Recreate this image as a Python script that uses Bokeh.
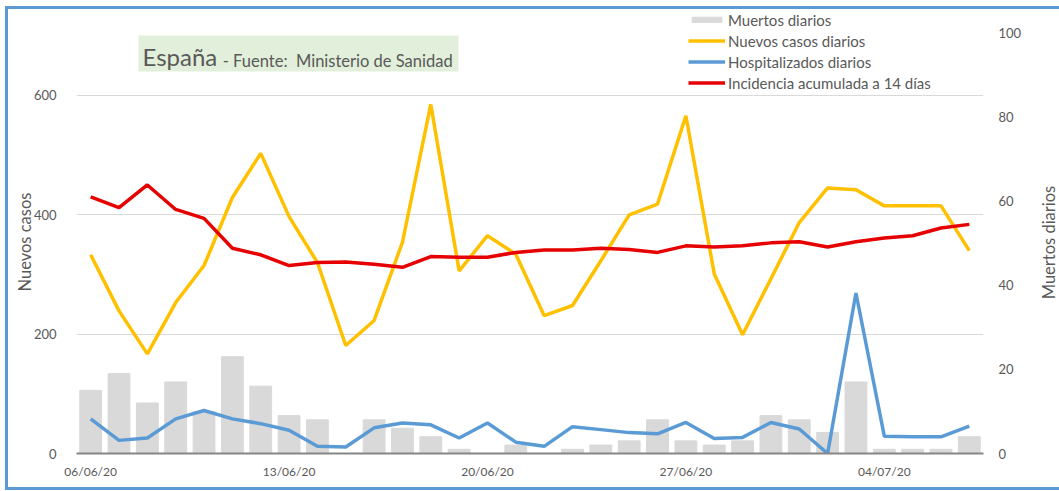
from bokeh.plotting import figure
from bokeh.layouts import row
from bokeh.models import (Range1d, LinearAxis, FixedTicker, Legend, LegendItem,
                          BoxAnnotation, Label, ColumnDataSource)
from bokeh.embed import file_html
from bokeh.resources import INLINE
import math

# ---------------- data ----------------
fechas = ["06/06/20", "07/06/20", "08/06/20", "09/06/20", "10/06/20", "11/06/20",
          "12/06/20", "13/06/20", "14/06/20", "15/06/20", "16/06/20", "17/06/20",
          "18/06/20", "19/06/20", "20/06/20", "21/06/20", "22/06/20", "23/06/20",
          "24/06/20", "25/06/20", "26/06/20", "27/06/20", "28/06/20", "29/06/20",
          "30/06/20", "01/07/20", "02/07/20", "03/07/20", "04/07/20", "05/07/20",
          "06/07/20", "07/07/20"]
muertos_diarios = [15, 19, 12, 17, 10, 23, 16, 9, 8, 0, 8, 6, 4, 1, 0, 2,
                   0, 1, 2, 3, 8, 3, 2, 3, 9, 8, 5, 17, 1, 1, 1, 4]
nuevos_casos = [333, 239, 167, 253, 315, 429, 503, 397, 320, 181, 223, 354, 585, 306, 365, 334,
                231, 248, 323, 400, 418, 566, 301, 199, 293, 387, 445, 442, 415, 415, 415, 340]
hospitalizados = [58, 22, 26, 58, 72, 58, 50, 39, 12, 11, 43, 51, 48, 26, 51, 19,
                  12, 45, 40, 35, 33, 52, 25, 27, 52, 41, 0, 269, 29, 28, 28, 46]
incidencia_14d = [430, 412, 450, 409, 394, 344, 333, 315, 320, 321, 317, 312, 330, 329, 329, 337,
                  341, 341, 344, 342, 337, 348, 346, 348, 353, 355, 346, 355, 361, 365, 378, 384]
ticks_x = [0, 7, 14, 21, 28]
ticks_izq = [0, 200, 400, 600]
ticks_der = [0, 20, 40, 60, 80, 100]

FONT = "Lato"
GRAY = "#595959"
NB = "\u00a0"

idx = list(range(len(fechas)))
src = ColumnDataSource(dict(x=idx, fecha=fechas, muertos=muertos_diarios, casos=nuevos_casos,
                            hosp=hospitalizados, inc=incidencia_14d))

y_izq = Range1d(0, 744.1)
p = figure(frame_width=907, frame_height=444,
           x_range=Range1d(-0.5, len(fechas) - 0.5), y_range=y_izq,
           output_backend="svg", toolbar_location=None,
           min_border_left=68, min_border_right=40, min_border_top=0, min_border_bottom=34,
           background_fill_color="white", border_fill_color="white")
p.outline_line_color = None
p.extra_y_ranges = {"der": Range1d(0, 105.5)}

# title box
p.add_layout(BoxAnnotation(left=1.687, right=12.977, bottom=640.2, top=700.5,
                           fill_color="#E2EFDA", fill_alpha=1, line_alpha=0))
p.add_layout(Label(x=1.83, y=665.5, text="España", text_font=FONT,
                   text_font_size="24px", text_color=GRAY, text_baseline="alphabetic"))
p.add_layout(Label(x=4.66, y=658.5, text="- Fuente:" + NB + " Ministerio de Sanidad", text_font=FONT,
                   text_font_size="16.5px", text_color=GRAY, text_baseline="alphabetic"))

bars = p.vbar(x="x", top="muertos", width=0.77, source=src, color="#D9D9D9",
              y_range_name="der")
l_casos = p.line("x", "casos", source=src, color="#FFC000", line_width=3.5)
l_hosp = p.line("x", "hosp", source=src, color="#5B9BD5", line_width=3.5)
l_inc = p.line("x", "inc", source=src, color="#E60000", line_width=3.5)

# axes
p.xaxis.ticker = FixedTicker(ticks=ticks_x)
p.xaxis.major_label_overrides = {i: fechas[i] for i in ticks_x}
p.xaxis.axis_line_color = "#868686"
p.xaxis.axis_line_width = 2
p.xaxis.major_tick_line_color = None
p.xaxis.minor_tick_line_color = None
p.xaxis.major_label_standoff = 4
p.xaxis.major_label_text_font = FONT
p.xaxis.major_label_text_font_size = "12px"
p.xaxis.major_label_text_color = GRAY

p.yaxis.ticker = FixedTicker(ticks=ticks_izq)
p.yaxis.axis_line_color = None
p.yaxis.major_tick_line_color = None
p.yaxis.minor_tick_line_color = None
p.yaxis.major_label_standoff = 14
p.yaxis.major_label_text_font = FONT
p.yaxis.major_label_text_font_size = "13px"
p.yaxis.major_label_text_color = GRAY
p.yaxis.axis_label = "Nuevos casos" + NB * 5
p.yaxis.axis_label_text_font = FONT
p.yaxis.axis_label_text_font_style = "normal"
p.yaxis.axis_label_text_font_size = "16.5px"
p.yaxis.axis_label_text_color = GRAY
p.yaxis.axis_label_standoff = -4

ax_der = LinearAxis(y_range_name="der", ticker=FixedTicker(ticks=ticks_der))
ax_der.axis_line_color = None
ax_der.major_tick_line_color = None
ax_der.minor_tick_line_color = None
ax_der.major_label_standoff = 9
ax_der.major_label_text_font = FONT
ax_der.major_label_text_font_size = "13px"
ax_der.major_label_text_color = GRAY
p.add_layout(ax_der, "right")

p.xgrid.grid_line_color = None
p.ygrid.ticker = FixedTicker(ticks=[200, 400, 600])
p.ygrid.grid_line_color = "#D9D9D9"
p.ygrid.grid_line_width = 1

legend = Legend(items=[
    LegendItem(label="Muertos diarios", renderers=[bars]),
    LegendItem(label="Nuevos casos diarios", renderers=[l_casos]),
    LegendItem(label="Hospitalizados diarios", renderers=[l_hosp]),
    LegendItem(label="Incidencia acumulada a 14 días", renderers=[l_inc]),
], location=(612, 360), orientation="vertical")
legend.glyph_width = 37
legend.glyph_height = 7
legend.label_height = 21
legend.spacing = 0
legend.padding = 0
legend.margin = 0
legend.label_standoff = 3
legend.label_text_font = FONT
legend.label_text_font_size = "15px"
legend.label_text_color = GRAY
legend.border_line_alpha = 0
legend.background_fill_alpha = 0
p.add_layout(legend)

# right-hand axis title (reads bottom-to-top), in a narrow companion panel
side = figure(frame_width=36, frame_height=444, x_range=Range1d(0, 1), y_range=y_izq,
              output_backend="svg", toolbar_location=None, x_axis_type=None, y_axis_type=None,
              min_border_left=0, min_border_right=0, min_border_top=0, min_border_bottom=34,
              background_fill_color="white", border_fill_color="white")
side.outline_line_color = None
side.add_layout(Label(x=0.667, y=353.6, text="Muertos diarios", angle=math.pi / 2,
                      text_align="center", text_baseline="middle", text_font=FONT,
                      text_font_size="16.5px", text_color=GRAY))

layout = row(p, side)
frame_line = "3px solid #5B9BD5"
layout.styles = {"border-top": frame_line, "border-left": frame_line, "border-bottom": frame_line,
                 "margin": "6px 0px 0px 5px"}

open("out.html", "w").write(file_html(layout, INLINE))
